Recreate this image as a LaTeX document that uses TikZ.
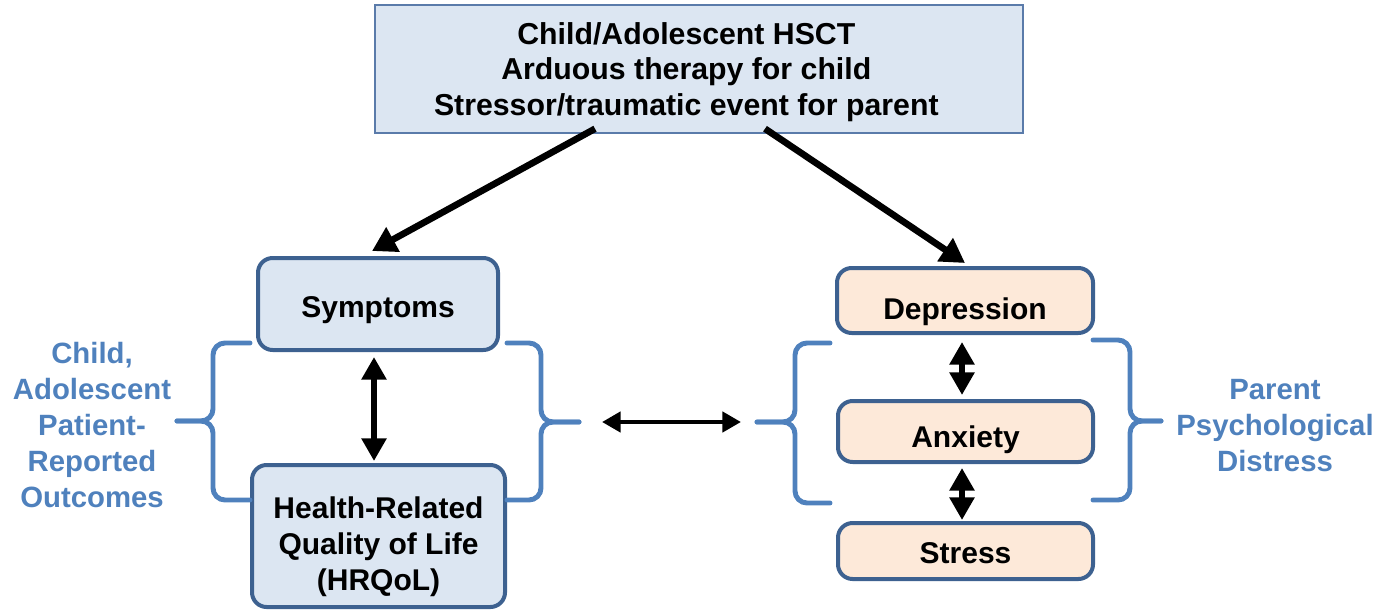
\documentclass[tikz,border=0pt]{standalone}
\usepackage{fontspec}
\setmainfont{Liberation Sans}
\usetikzlibrary{arrows.meta,calc}
\definecolor{boxblue}{HTML}{DCE6F2}
\definecolor{boxpeach}{HTML}{FDE9D9}
\definecolor{edgeblue}{HTML}{3D6190}
\definecolor{thinedge}{HTML}{5A7BAA}
\definecolor{lblblue}{HTML}{4F81BD}
\newcommand\lowered[2]{\raisebox{-#1}[\height][\depth]{#2}}
\newcommand\stack[1]{\begin{tabular}{@{}c@{}}#1\end{tabular}}
\tikzset{
  txt/.style={font=\bfseries\fontsize{22.5}{27}\selectfont, align=center},
  topbox/.style={font=\bfseries\fontsize{22.7}{26.6}\selectfont, draw=thinedge, line width=1.1pt, fill=boxblue, inner sep=0pt},
  rbox/.style={txt, draw=edgeblue, line width=3pt, rounded corners=11pt, inner sep=0pt},
  bluebox/.style={rbox, fill=boxblue},
  peachbox/.style={rbox, fill=boxpeach},
  lbl/.style={font=\bfseries\fontsize{22}{27}\selectfont, align=center, text=lblblue},
  bigarrow/.style={line width=5pt, -{Triangle[length=18pt,width=20pt]}},
  bigdouble/.style={line width=5.2pt, {Triangle[length=17pt,width=18pt]}-{Triangle[length=17pt,width=18pt]}},
  smalldouble/.style={line width=3.4pt, {Triangle[length=14pt,width=15pt]}-{Triangle[length=14pt,width=15pt]}},
  bracepath/.style={draw=lblblue, line width=3.7pt, line cap=round, rounded corners=9pt}
}
\begin{document}
\begin{tikzpicture}[x=0.75pt,y=-0.75pt]
\useasboundingbox (0,0) rectangle (1383,610);
% boxes
\node[topbox, minimum width=486pt, minimum height=96pt] (top) at (699,69)
  {\lowered{2.6pt}{\stack{Child/Adolescent HSCT\\Arduous therapy for child\\Stressor/traumatic event for parent}\hspace*{19pt}}};
\node[bluebox, minimum width=180pt, minimum height=69pt] (sym) at (378,304) {\lowered{4.5pt}{Symptoms}};
\node[bluebox, minimum width=189.75pt, minimum height=106.5pt] (hr) at (378.5,536)
  {\lowered{8.5pt}{\stack{Health-Related\\Quality of Life\\(HRQoL)}}};
\node[peachbox, minimum width=192pt, minimum height=48.75pt] (dep) at (965,300.5) {\lowered{8.5pt}{Depression}};
\node[peachbox, minimum width=191.25pt, minimum height=45.75pt] (anx) at (965.5,431.5) {\lowered{6pt}{Anxiety}};
\node[peachbox, minimum width=191.25pt, minimum height=42pt] (str) at (965.5,551) {\lowered{1.5pt}{Stress}};
% labels
\node[lbl] (pro) at (92,425) {Child,\\Adolescent\\Patient-\\Reported\\Outcomes};
\node[lbl] (ppd) at (1275,426) {Parent\\Psychological\\Distress};
% braces
\coordinate (b1tip) at (177,421);
\coordinate (b2tip) at (579,422);
\coordinate (b3tip) at (757,422);
\coordinate (b4tip) at (1161,421);
\path[bracepath] (250,343) -- (213,343) -- (213,421) -- (b1tip);
\path[bracepath] (250,500) -- (213,500) -- (213,421) -- (b1tip);
\path[bracepath] (507,343) -- (541,343) -- (541,422) -- (b2tip);
\path[bracepath] (507,500) -- (541,500) -- (541,422) -- (b2tip);
\path[bracepath] (830,343) -- (795,343) -- (795,422) -- (b3tip);
\path[bracepath] (830,503) -- (795,503) -- (795,422) -- (b3tip);
\path[bracepath] (1093,340) -- (1130,340) -- (1130,421) -- (b4tip);
\path[bracepath] (1093,500) -- (1130,500) -- (1130,421) -- (b4tip);
% arrows
\draw[bigarrow] ($(top.south)+(-104,-5)$) -- ($(sym.north)+(-6,-5)$);
\draw[bigarrow] ($(top.south)+(66,-5)$) -- ($(dep.north)+(0,-3)$);
\draw[bigdouble] ($(sym.south)+(-4,5)$) -- ($(hr.north)+(-4.5,-2)$);
\draw[bigdouble] ($(dep.south)+(-3,7)$) -- ($(anx.north)+(-3.5,-4)$);
\draw[bigdouble] ($(anx.south)+(-3.5,4)$) -- ($(str.north)+(-3.5,-1)$);
\draw[smalldouble] ($(b2tip)+(23,0)$) -- ($(b3tip)+(-16,0)$);
\end{tikzpicture}
\end{document}
